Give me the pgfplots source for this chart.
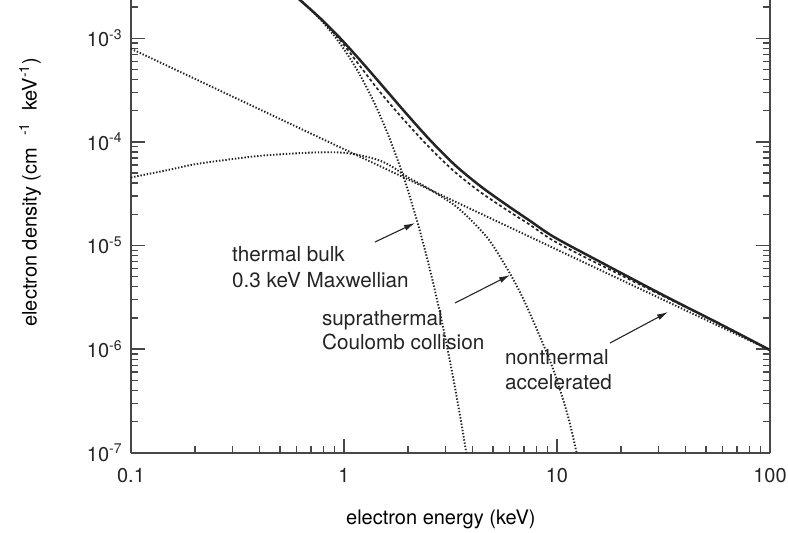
\documentclass[border=0pt]{standalone}
\usepackage{fontspec}
\setmainfont{TeX Gyre Heros}
\usepackage{pgfplots}
\pgfplotsset{compat=1.18}
\usetikzlibrary{arrows.meta}

\definecolor{ink}{gray}{0.14}
\definecolor{axisgray}{gray}{0.28}

% thermal bulk, 0.3 keV Maxwellian
\pgfplotstableread{
E f
0.4 4.055e-3
0.5 3.195e-3
0.6 2.466e-3
0.7 1.877e-3
0.8 1.414e-3
0.9 1.057e-3
1.0 7.852e-4
1.1 5.802e-4
1.2 4.272e-4
1.35 2.680e-4
1.47 1.838e-4
1.6 1.217e-4
1.7 8.834e-5
1.85 5.451e-5
2.0 3.353e-5
2.2 1.747e-5
2.4 9.060e-6
2.6 4.683e-6
2.81 2.335e-6
3.0 1.241e-6
3.3 4.550e-7
3.6 1.664e-7
3.88 6.480e-8
4.0 4.330e-8
}\thermal

% suprathermal, Coulomb collision tail
\pgfplotstableread{
E f
0.1 4.539e-5
0.15 5.370e-5
0.2 6.095e-5
0.3 6.839e-5
0.4 7.328e-5
0.5 7.586e-5
0.6 7.762e-5
0.7 7.889e-5
0.8 7.943e-5
0.9 7.943e-5
1.0 7.852e-5
1.2 7.413e-5
1.47 6.622e-5
1.7 5.689e-5
2.0 4.539e-5
2.4 3.715e-5
2.81 3.041e-5
3.3 2.455e-5
3.88 1.824e-5
4.82 1.117e-5
5.98 5.483e-6
7.0 2.951e-6
8.28 1.349e-6
9.5 6.761e-7
10.62 3.396e-7
11.5 1.905e-7
12.36 1.000e-7
13.5 4.467e-8
}\suprathermal

% nonthermal, accelerated (power law)
\pgfplotstableread{
E f
0.1 7.943e-4
1.0 8.511e-5
10.0 9.120e-6
100.0 9.772e-7
}\nonthermal

% total spectrum
\pgfplotstableread{
E f
0.6 2.500e-3
0.7715 1.570e-3
0.9577 1.007e-3
1.189 6.166e-4
1.476 3.698e-4
1.934 1.941e-4
2.534 1.042e-4
3.319 5.980e-5
4.350 3.768e-5
5.700 2.527e-5
7.467 1.731e-5
9.681 1.208e-5
15.92 6.966e-6
31.46 3.327e-6
58.26 1.746e-6
100 9.795e-7
}\total

% alternative fit
\pgfplotstableread{
E f
0.6 2.500e-3
0.7715 1.570e-3
0.9577 9.632e-4
1.189 5.397e-4
1.476 3.028e-4
1.934 1.589e-4
2.534 8.723e-5
3.319 5.118e-5
4.350 3.298e-5
5.700 2.261e-5
7.467 1.584e-5
9.681 1.105e-5
15.92 6.517e-6
31.46 3.254e-6
58.26 1.746e-6
100 9.795e-7
}\fit

\begin{document}
\fontsize{20bp}{26bp}\selectfont
\begin{tikzpicture}[
  note/.style={anchor=west, align=left, inner sep=0pt, text=ink},
  pointer/.style={ink, line width=1.1bp, -{Latex[length=11bp,width=6bp]}},
]
\useasboundingbox (-131bp,-80.3bp) rectangle (657bp,452.7bp);
\begin{loglogaxis}[
  at={(0,0)}, anchor=south west,
  scale only axis, width=639bp, height=452.7bp,
  xmin=0.1, xmax=100, ymin=1e-7, ymax=2.343e-3,
  axis x line*=bottom, axis y line*=box,
  axis line style={axisgray, line width=1.6bp},
  tick align=inside,
  major tick length=14bp, minor tick length=7bp,
  every tick/.style={axisgray, line width=1.3bp},
  xtick={0.1,1,10,100},
  xticklabels={0.1,1,10,100},
  minor xtick={0.2,0.3,0.4,0.5,0.6,0.7,0.8,0.9,2,3,4,5,6,7,8,9,20,30,40,50,60,70,80,90},
  ytick={1e-7,1e-6,1e-5,1e-4,1e-3},
  yticklabels={10\textsuperscript{-7},10\textsuperscript{-6},10\textsuperscript{-5},10\textsuperscript{-4},10\textsuperscript{-3}},
  minor ytick={2e-7,3e-7,4e-7,5e-7,6e-7,7e-7,8e-7,9e-7,
               2e-6,3e-6,4e-6,5e-6,6e-6,7e-6,8e-6,9e-6,
               2e-5,3e-5,4e-5,5e-5,6e-5,7e-5,8e-5,9e-5,
               2e-4,3e-4,4e-4,5e-4,6e-4,7e-4,8e-4,9e-4,2e-3},
  /pgf/number format/assume math mode=true,
  tick label style={font=\fontsize{20bp}{24bp}\selectfont, text=ink},
  xticklabel style={yshift=-9bp},
  yticklabel style={xshift=-2bp},
  label style={font=\fontsize{21bp}{24bp}\selectfont, text=ink},
  every axis x label/.style={at={(rel axis cs:0.485,-0.148)}, anchor=center},
  every axis y label/.style={at={(rel axis cs:-0.158,0.575)}, rotate=90, anchor=center},
  xlabel={electron energy (keV)},
  ylabel={electron density (cm\hspace{12bp}\textsuperscript{-1}\hspace{12bp}keV\textsuperscript{-1})},
  dotline/.style={ink, line width=1.9bp, dash pattern=on 1.4bp off 1.8bp},
]
\addplot[dotline, smooth, tension=0.4] table[x=E, y=f] {\thermal};
\addplot[dotline, smooth, tension=0.5] table[x=E, y=f] {\suprathermal};
\addplot[dotline] table[x=E, y=f] {\nonthermal};
\addplot[ink, line width=1.7bp, dash pattern=on 3bp off 2.5bp, smooth, tension=0.5] table[x=E, y=f] {\fit};
\addplot[ink, line width=2.5bp, smooth, tension=0.5] table[x=E, y=f] {\total};

\node[note, font=\fontsize{20.7bp}{25.5bp}\selectfont]
  at (axis cs:0.298,6.2e-6) {thermal bulk\\0.3 keV Maxwellian};
\node[note, font=\fontsize{20.7bp}{24bp}\selectfont]
  at (axis cs:0.788,1.527e-6) {suprathermal\\Coulomb collision};
\node[note, font=\fontsize{20.7bp}{25bp}\selectfont]
  at (axis cs:5.70,6.284e-7) {nonthermal\\accelerated};

\draw[pointer] (axis cs:1.398,1.081e-5) -- (axis cs:2.154,1.648e-5);
\draw[pointer] (axis cs:3.319,2.786e-6) -- (axis cs:6.017,5.19e-6);
\draw[pointer] (axis cs:17.74,1.145e-6) -- (axis cs:33.2,2.28e-6);
\end{loglogaxis}
\end{tikzpicture}
\end{document}
